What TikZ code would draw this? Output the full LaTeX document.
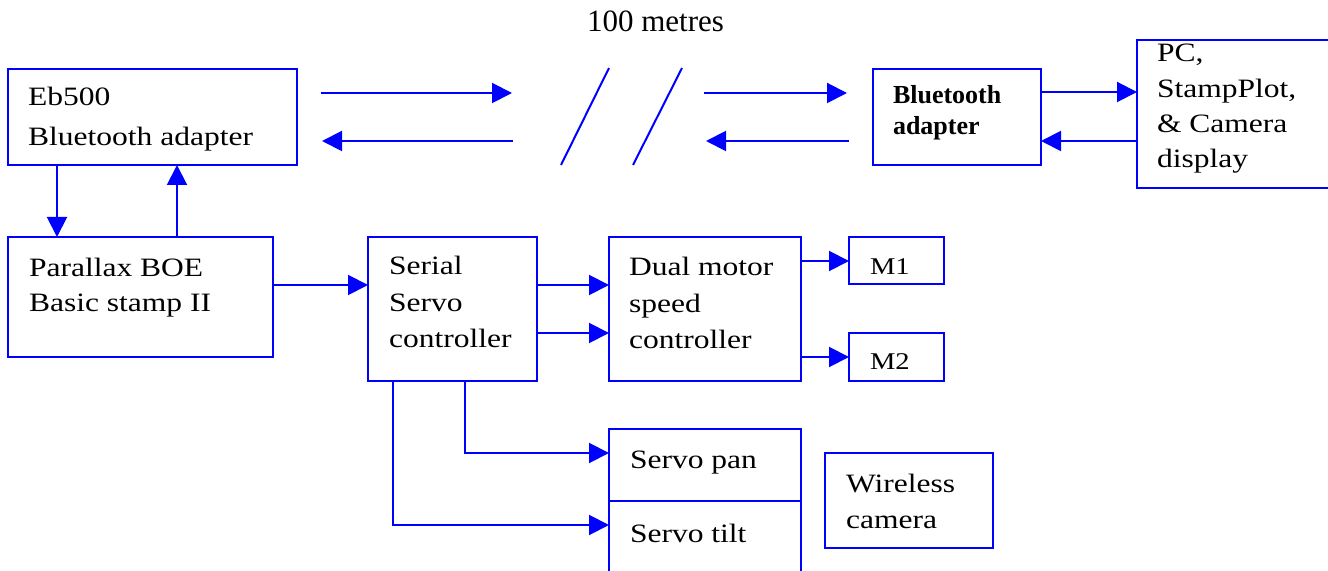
\documentclass[tikz,border=0pt]{standalone}
\usepackage{fontspec}
\setmainfont{Liberation Serif}[FakeStretch=1.19]
\newfontfamily\plainserif{Liberation Serif}
\usetikzlibrary{arrows.meta,fit}
\newcommand{\lns}[3]{\fontsize{#1}{#2}\selectfont\begin{tabular}[t]{@{}l@{}}#3\end{tabular}}
\begin{document}
\begin{tikzpicture}[x=0.5pt,y=-0.5pt,
  blk/.style={draw=blue, line width=1pt, inner sep=0pt, outer sep=0pt},
  arr/.style={draw=blue, line width=1pt, -{Triangle[length=10pt,width=10pt]}},
  ln/.style={draw=blue, line width=1pt},
  txt/.style={anchor=base west, inner sep=0pt, outer sep=0pt, text=black}]
\useasboundingbox (0,0) rectangle (1328,571);

% boxes
\node[blk, fit={(8,69) (297,165)}] (eb) {};
\node[blk, fit={(873,69) (1041,165)}] (bt) {};
\node[blk, fit={(1137,40) (1334,188)}] (pc) {};
\node[blk, fit={(8,237) (273,357)}] (par) {};
\node[blk, fit={(368,237) (537,381)}] (ser) {};
\node[blk, fit={(609,237) (801,381)}] (dual) {};
\node[blk, fit={(849,237) (944,284)}] (m1) {};
\node[blk, fit={(849,333) (944,381)}] (m2) {};
\node[blk, fit={(609,429) (801,501)}] (pan) {};
\node[blk, fit={(609,501) (801,600)}] (tilt) {};
\node[blk, fit={(825,453) (993,548)}] (cam) {};

% texts
\node[txt] (t100) at (587,32) {\plainserif\fontsize{15.5}{18}\selectfont 100 metres};
\node[txt] (teb) at (28,106) {\lns{13.25}{20}{Eb500\\Bluetooth adapter}};
\node[txt] (tbt) at (893,104) {\plainserif\bfseries\lns{13}{15.5}{Bluetooth\\adapter}};
\node[txt] (tpc) at (1157,62) {\lns{13.25}{17.6}{PC,\\StampPlot,\\\& Camera\\display}};
\node[txt] (tpar) at (29,277) {\lns{13.25}{17.5}{Parallax BOE\\Basic stamp II}};
\node[txt] (tser) at (389,275) {\lns{13.25}{18.25}{Serial\\Servo\\controller}};
\node[txt] (tdual) at (629,276) {\lns{13.25}{18.25}{Dual motor\\speed\\controller}};
\node[txt] (tm1) at (870,275) {\fontsize{12}{14}\selectfont M1};
\node[txt] (tm2) at (870,370) {\fontsize{12}{14}\selectfont M2};
\node[txt] (tpan) at (630,469) {\fontsize{13.25}{16}\selectfont Servo pan};
\node[txt] (ttilt) at (630,542) {\fontsize{13.25}{16}\selectfont Servo tilt};
\node[txt] (tcam) at (846,493) {\lns{13.25}{18}{Wireless\\camera}};

% helper coordinates
\coordinate (a1s) at (321,93);
\coordinate (a1e) at (512,93);
\coordinate (a2s) at (513,141);
\coordinate (a2e) at (322,141);
\coordinate (s1t) at (609,68);
\coordinate (s1b) at (561,165);
\coordinate (s2t) at (682,68);
\coordinate (s2b) at (633,165);
\coordinate (b1s) at (704,93);
\coordinate (b1e) at (847,93);
\coordinate (b2s) at (849,141);
\coordinate (b2e) at (706,141);
\coordinate (ya) at (0,92);
\coordinate (yb) at (0,141);
\coordinate (xd) at (57,0);
\coordinate (xu) at (177,0);
\coordinate (yp) at (0,285);
\coordinate (yq) at (0,333);
\coordinate (y1) at (0,261);
\coordinate (y2) at (0,357);
\coordinate (xs1) at (465,0);
\coordinate (xs2) at (393,0);
\coordinate (ypan) at (0,453);
\coordinate (ytilt) at (0,525);

% link arrows
\draw[arr] (a1s) -- (a1e);
\draw[arr] (a2s) -- (a2e);
\draw[ln] (s1b) -- (s1t);
\draw[ln] (s2b) -- (s2t);
\draw[arr] (b1s) -- (b1e);
\draw[arr] (b2s) -- (b2e);
\draw[arr] (bt.east |- ya) -- (pc.west |- ya);
\draw[arr] (pc.west |- yb) -- (bt.east |- yb);

% connectors
\draw[arr] (xd |- eb.south) -- (xd |- par.north);
\draw[arr] (xu |- par.north) -- (xu |- eb.south);
\draw[arr] (par.east |- yp) -- (ser.west |- yp);
\draw[arr] (ser.east |- yp) -- (dual.west |- yp);
\draw[arr] (ser.east |- yq) -- (dual.west |- yq);
\draw[arr] (dual.east |- y1) -- (m1.west |- y1);
\draw[arr] (dual.east |- y2) -- (m2.west |- y2);
\draw[arr] (xs1 |- ser.south) |- (pan.west |- ypan);
\draw[arr] (xs2 |- ser.south) |- (tilt.west |- ytilt);
\end{tikzpicture}
\end{document}
